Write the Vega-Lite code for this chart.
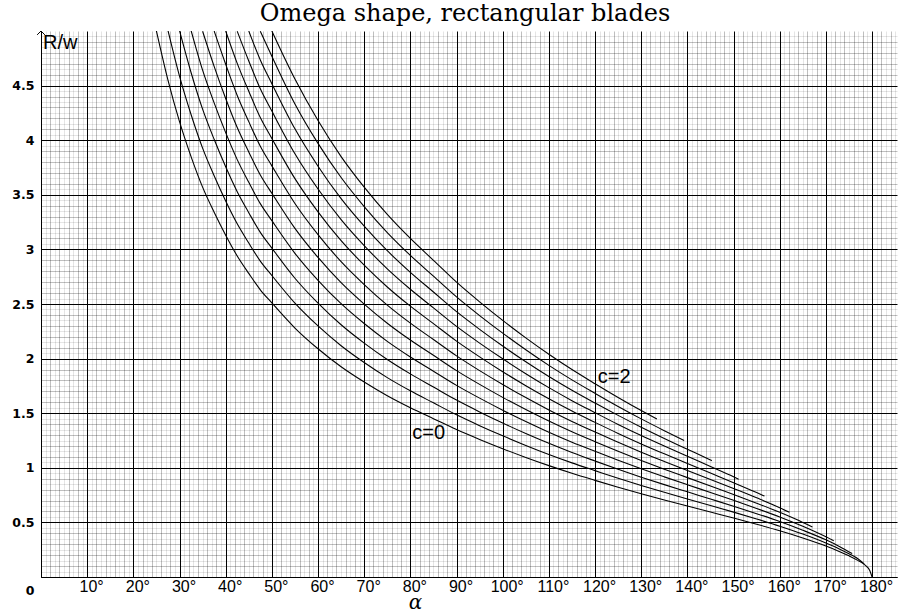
{
"$schema":"https://vega.github.io/schema/vega-lite/v6.json",
"width":856,"height":546,
"autosize":{"type":"none"},
"padding":{"left":41,"top":31,"right":3,"bottom":35},
"background":"white",
"config":{"view":{"stroke":null}},
"title":{"text":"Omega shape, rectangular blades","font":"DejaVu Serif","fontSize":24,"fontWeight":"normal","color":"black","anchor":"middle","baseline":"alphabetic","offset":-16,"dx":-4,"frame":"group"},
"datasets":{
"curves":[
{"c":0,"a":25,"r":5.0},{"c":0,"a":27.5,"r":4.55},{"c":0,"a":30,"r":4.17},{"c":0,"a":32.5,"r":3.85},{"c":0,"a":35,"r":3.57},{"c":0,"a":37.5,"r":3.34},{"c":0,"a":40,"r":3.13},{"c":0,"a":42.5,"r":2.94},{"c":0,"a":45,"r":2.78},{"c":0,"a":47.5,"r":2.63},{"c":0,"a":50,"r":2.51},{"c":0,"a":55,"r":2.28},{"c":0,"a":60,"r":2.09},{"c":0,"a":65,"r":1.925},{"c":0,"a":70,"r":1.785},{"c":0,"a":75,"r":1.66},{"c":0,"a":80,"r":1.55},{"c":0,"a":85,"r":1.45},{"c":0,"a":90,"r":1.35},{"c":0,"a":95,"r":1.26},{"c":0,"a":100,"r":1.175},{"c":0,"a":105,"r":1.095},{"c":0,"a":110,"r":1.02},{"c":0,"a":115,"r":0.95},{"c":0,"a":120,"r":0.885},{"c":0,"a":125,"r":0.822},{"c":0,"a":130,"r":0.762},{"c":0,"a":135,"r":0.705},{"c":0,"a":140,"r":0.65},{"c":0,"a":145,"r":0.595},{"c":0,"a":150,"r":0.54},{"c":0,"a":155,"r":0.483},{"c":0,"a":160,"r":0.423},{"c":0,"a":165,"r":0.357},{"c":0,"a":170,"r":0.283},{"c":0,"a":173,"r":0.232},{"c":0,"a":175,"r":0.194},{"c":0,"a":177,"r":0.15},{"c":0,"a":178.5,"r":0.108},{"c":0,"a":179.5,"r":0.06},{"c":0,"a":180,"r":0.0},
{"c":0.2,"a":27.5,"r":5.005},{"c":0.2,"a":30,"r":4.587},{"c":0.2,"a":32.5,"r":4.235},{"c":0.2,"a":35,"r":3.927},{"c":0.2,"a":37.5,"r":3.674},{"c":0.2,"a":40,"r":3.443},{"c":0.2,"a":42.5,"r":3.234},{"c":0.2,"a":45,"r":3.058},{"c":0.2,"a":47.5,"r":2.893},{"c":0.2,"a":50,"r":2.761},{"c":0.2,"a":55,"r":2.508},{"c":0.2,"a":60,"r":2.299},{"c":0.2,"a":65,"r":2.118},{"c":0.2,"a":70,"r":1.964},{"c":0.2,"a":75,"r":1.826},{"c":0.2,"a":80,"r":1.705},{"c":0.2,"a":85,"r":1.595},{"c":0.2,"a":90,"r":1.485},{"c":0.2,"a":95,"r":1.386},{"c":0.2,"a":100,"r":1.293},{"c":0.2,"a":105,"r":1.205},{"c":0.2,"a":110,"r":1.122},{"c":0.2,"a":115,"r":1.045},{"c":0.2,"a":120,"r":0.974},{"c":0.2,"a":125,"r":0.904},{"c":0.2,"a":130,"r":0.838},{"c":0.2,"a":135,"r":0.776},{"c":0.2,"a":140,"r":0.715},{"c":0.2,"a":145,"r":0.655},{"c":0.2,"a":150,"r":0.594},{"c":0.2,"a":155,"r":0.531},{"c":0.2,"a":160,"r":0.465},{"c":0.2,"a":165,"r":0.393},{"c":0.2,"a":170,"r":0.311},{"c":0.2,"a":173,"r":0.255},{"c":0.2,"a":175,"r":0.213},{"c":0.2,"a":177,"r":0.165},{"c":0.2,"a":178.3,"r":0.12},
{"c":0.4,"a":30,"r":5.004},{"c":0.4,"a":32.5,"r":4.62},{"c":0.4,"a":35,"r":4.284},{"c":0.4,"a":37.5,"r":4.008},{"c":0.4,"a":40,"r":3.756},{"c":0.4,"a":42.5,"r":3.528},{"c":0.4,"a":45,"r":3.336},{"c":0.4,"a":47.5,"r":3.156},{"c":0.4,"a":50,"r":3.012},{"c":0.4,"a":55,"r":2.736},{"c":0.4,"a":60,"r":2.508},{"c":0.4,"a":65,"r":2.31},{"c":0.4,"a":70,"r":2.142},{"c":0.4,"a":75,"r":1.992},{"c":0.4,"a":80,"r":1.86},{"c":0.4,"a":85,"r":1.74},{"c":0.4,"a":90,"r":1.62},{"c":0.4,"a":95,"r":1.512},{"c":0.4,"a":100,"r":1.41},{"c":0.4,"a":105,"r":1.314},{"c":0.4,"a":110,"r":1.224},{"c":0.4,"a":115,"r":1.14},{"c":0.4,"a":120,"r":1.062},{"c":0.4,"a":125,"r":0.986},{"c":0.4,"a":130,"r":0.914},{"c":0.4,"a":135,"r":0.846},{"c":0.4,"a":140,"r":0.78},{"c":0.4,"a":145,"r":0.714},{"c":0.4,"a":150,"r":0.648},{"c":0.4,"a":155,"r":0.58},{"c":0.4,"a":160,"r":0.508},{"c":0.4,"a":165,"r":0.428},{"c":0.4,"a":170,"r":0.34},{"c":0.4,"a":173,"r":0.278},{"c":0.4,"a":175.7,"r":0.215},
{"c":0.6,"a":32.5,"r":5.005},{"c":0.6,"a":35,"r":4.641},{"c":0.6,"a":37.5,"r":4.342},{"c":0.6,"a":40,"r":4.069},{"c":0.6,"a":42.5,"r":3.822},{"c":0.6,"a":45,"r":3.614},{"c":0.6,"a":47.5,"r":3.419},{"c":0.6,"a":50,"r":3.263},{"c":0.6,"a":55,"r":2.964},{"c":0.6,"a":60,"r":2.717},{"c":0.6,"a":65,"r":2.503},{"c":0.6,"a":70,"r":2.321},{"c":0.6,"a":75,"r":2.158},{"c":0.6,"a":80,"r":2.015},{"c":0.6,"a":85,"r":1.885},{"c":0.6,"a":90,"r":1.755},{"c":0.6,"a":95,"r":1.638},{"c":0.6,"a":100,"r":1.528},{"c":0.6,"a":105,"r":1.424},{"c":0.6,"a":110,"r":1.326},{"c":0.6,"a":115,"r":1.235},{"c":0.6,"a":120,"r":1.151},{"c":0.6,"a":125,"r":1.069},{"c":0.6,"a":130,"r":0.991},{"c":0.6,"a":135,"r":0.917},{"c":0.6,"a":140,"r":0.845},{"c":0.6,"a":145,"r":0.774},{"c":0.6,"a":150,"r":0.702},{"c":0.6,"a":155,"r":0.628},{"c":0.6,"a":160,"r":0.55},{"c":0.6,"a":165,"r":0.464},{"c":0.6,"a":170,"r":0.368},{"c":0.6,"a":171.7,"r":0.332},
{"c":0.8,"a":35,"r":4.998},{"c":0.8,"a":37.5,"r":4.676},{"c":0.8,"a":40,"r":4.382},{"c":0.8,"a":42.5,"r":4.116},{"c":0.8,"a":45,"r":3.892},{"c":0.8,"a":47.5,"r":3.682},{"c":0.8,"a":50,"r":3.514},{"c":0.8,"a":55,"r":3.192},{"c":0.8,"a":60,"r":2.926},{"c":0.8,"a":65,"r":2.695},{"c":0.8,"a":70,"r":2.499},{"c":0.8,"a":75,"r":2.324},{"c":0.8,"a":80,"r":2.17},{"c":0.8,"a":85,"r":2.03},{"c":0.8,"a":90,"r":1.89},{"c":0.8,"a":95,"r":1.764},{"c":0.8,"a":100,"r":1.645},{"c":0.8,"a":105,"r":1.533},{"c":0.8,"a":110,"r":1.428},{"c":0.8,"a":115,"r":1.33},{"c":0.8,"a":120,"r":1.239},{"c":0.8,"a":125,"r":1.151},{"c":0.8,"a":130,"r":1.067},{"c":0.8,"a":135,"r":0.987},{"c":0.8,"a":140,"r":0.91},{"c":0.8,"a":145,"r":0.833},{"c":0.8,"a":150,"r":0.756},{"c":0.8,"a":155,"r":0.676},{"c":0.8,"a":160,"r":0.592},{"c":0.8,"a":165,"r":0.5},{"c":0.8,"a":167.1,"r":0.458},
{"c":1.0,"a":37.5,"r":5.0},{"c":1.0,"a":40,"r":4.695},{"c":1.0,"a":42.5,"r":4.41},{"c":1.0,"a":45,"r":4.17},{"c":1.0,"a":47.5,"r":3.945},{"c":1.0,"a":50,"r":3.765},{"c":1.0,"a":55,"r":3.42},{"c":1.0,"a":60,"r":3.135},{"c":1.0,"a":65,"r":2.888},{"c":1.0,"a":70,"r":2.678},{"c":1.0,"a":75,"r":2.49},{"c":1.0,"a":80,"r":2.325},{"c":1.0,"a":85,"r":2.175},{"c":1.0,"a":90,"r":2.025},{"c":1.0,"a":95,"r":1.89},{"c":1.0,"a":100,"r":1.763},{"c":1.0,"a":105,"r":1.643},{"c":1.0,"a":110,"r":1.53},{"c":1.0,"a":115,"r":1.425},{"c":1.0,"a":120,"r":1.328},{"c":1.0,"a":125,"r":1.233},{"c":1.0,"a":130,"r":1.143},{"c":1.0,"a":135,"r":1.058},{"c":1.0,"a":140,"r":0.975},{"c":1.0,"a":145,"r":0.893},{"c":1.0,"a":150,"r":0.81},{"c":1.0,"a":155,"r":0.725},{"c":1.0,"a":160,"r":0.635},{"c":1.0,"a":162.1,"r":0.593},
{"c":1.2,"a":40,"r":5.0},{"c":1.2,"a":42.5,"r":4.704},{"c":1.2,"a":45,"r":4.448},{"c":1.2,"a":47.5,"r":4.208},{"c":1.2,"a":50,"r":4.016},{"c":1.2,"a":55,"r":3.648},{"c":1.2,"a":60,"r":3.344},{"c":1.2,"a":65,"r":3.08},{"c":1.2,"a":70,"r":2.856},{"c":1.2,"a":75,"r":2.656},{"c":1.2,"a":80,"r":2.48},{"c":1.2,"a":85,"r":2.32},{"c":1.2,"a":90,"r":2.16},{"c":1.2,"a":95,"r":2.016},{"c":1.2,"a":100,"r":1.88},{"c":1.2,"a":105,"r":1.752},{"c":1.2,"a":110,"r":1.632},{"c":1.2,"a":115,"r":1.52},{"c":1.2,"a":120,"r":1.416},{"c":1.2,"a":125,"r":1.315},{"c":1.2,"a":130,"r":1.219},{"c":1.2,"a":135,"r":1.128},{"c":1.2,"a":140,"r":1.04},{"c":1.2,"a":145,"r":0.952},{"c":1.2,"a":150,"r":0.864},{"c":1.2,"a":155,"r":0.773},{"c":1.2,"a":156.7,"r":0.741},
{"c":1.4,"a":42.5,"r":4.998},{"c":1.4,"a":45,"r":4.726},{"c":1.4,"a":47.5,"r":4.471},{"c":1.4,"a":50,"r":4.267},{"c":1.4,"a":55,"r":3.876},{"c":1.4,"a":60,"r":3.553},{"c":1.4,"a":65,"r":3.273},{"c":1.4,"a":70,"r":3.035},{"c":1.4,"a":75,"r":2.822},{"c":1.4,"a":80,"r":2.635},{"c":1.4,"a":85,"r":2.465},{"c":1.4,"a":90,"r":2.295},{"c":1.4,"a":95,"r":2.142},{"c":1.4,"a":100,"r":1.998},{"c":1.4,"a":105,"r":1.862},{"c":1.4,"a":110,"r":1.734},{"c":1.4,"a":115,"r":1.615},{"c":1.4,"a":120,"r":1.505},{"c":1.4,"a":125,"r":1.397},{"c":1.4,"a":130,"r":1.295},{"c":1.4,"a":135,"r":1.199},{"c":1.4,"a":140,"r":1.105},{"c":1.4,"a":145,"r":1.012},{"c":1.4,"a":150,"r":0.918},{"c":1.4,"a":151.1,"r":0.896},
{"c":1.6,"a":45,"r":5.0},{"c":1.6,"a":47.5,"r":4.734},{"c":1.6,"a":50,"r":4.518},{"c":1.6,"a":55,"r":4.104},{"c":1.6,"a":60,"r":3.762},{"c":1.6,"a":65,"r":3.465},{"c":1.6,"a":70,"r":3.213},{"c":1.6,"a":75,"r":2.988},{"c":1.6,"a":80,"r":2.79},{"c":1.6,"a":85,"r":2.61},{"c":1.6,"a":90,"r":2.43},{"c":1.6,"a":95,"r":2.268},{"c":1.6,"a":100,"r":2.115},{"c":1.6,"a":105,"r":1.971},{"c":1.6,"a":110,"r":1.836},{"c":1.6,"a":115,"r":1.71},{"c":1.6,"a":120,"r":1.593},{"c":1.6,"a":125,"r":1.48},{"c":1.6,"a":130,"r":1.372},{"c":1.6,"a":135,"r":1.269},{"c":1.6,"a":140,"r":1.17},{"c":1.6,"a":145,"r":1.071},{"c":1.6,"a":145.3,"r":1.065},
{"c":1.8,"a":47.5,"r":4.997},{"c":1.8,"a":50,"r":4.769},{"c":1.8,"a":55,"r":4.332},{"c":1.8,"a":60,"r":3.971},{"c":1.8,"a":65,"r":3.658},{"c":1.8,"a":70,"r":3.392},{"c":1.8,"a":75,"r":3.154},{"c":1.8,"a":80,"r":2.945},{"c":1.8,"a":85,"r":2.755},{"c":1.8,"a":90,"r":2.565},{"c":1.8,"a":95,"r":2.394},{"c":1.8,"a":100,"r":2.233},{"c":1.8,"a":105,"r":2.081},{"c":1.8,"a":110,"r":1.938},{"c":1.8,"a":115,"r":1.805},{"c":1.8,"a":120,"r":1.682},{"c":1.8,"a":125,"r":1.562},{"c":1.8,"a":130,"r":1.448},{"c":1.8,"a":135,"r":1.34},{"c":1.8,"a":139.3,"r":1.25},
{"c":2.0,"a":50,"r":5.0},{"c":2.0,"a":55,"r":4.56},{"c":2.0,"a":60,"r":4.18},{"c":2.0,"a":65,"r":3.85},{"c":2.0,"a":70,"r":3.57},{"c":2.0,"a":75,"r":3.32},{"c":2.0,"a":80,"r":3.1},{"c":2.0,"a":85,"r":2.9},{"c":2.0,"a":90,"r":2.7},{"c":2.0,"a":95,"r":2.52},{"c":2.0,"a":100,"r":2.35},{"c":2.0,"a":105,"r":2.19},{"c":2.0,"a":110,"r":2.04},{"c":2.0,"a":115,"r":1.9},{"c":2.0,"a":120,"r":1.77},{"c":2.0,"a":125,"r":1.644},{"c":2.0,"a":130,"r":1.524},{"c":2.0,"a":133.4,"r":1.446}
],
"labels":[{"t":"c=0","a":80.4,"r":1.26},{"t":"c=2","a":120.6,"r":1.78}],
"corner":[{"t":"R/w","a":0,"r":5}]
},
"encoding":{
  "x":{"field":"a","type":"quantitative","scale":{"domain":[0,185.4],"nice":false,"zero":false},
   "axis":{"values":[0,1,2,3,4,5,6,7,8,9,10,11,12,13,14,15,16,17,18,19,20,21,22,23,24,25,26,27,28,29,30,31,32,33,34,35,36,37,38,39,40,41,42,43,44,45,46,47,48,49,50,51,52,53,54,55,56,57,58,59,60,61,62,63,64,65,66,67,68,69,70,71,72,73,74,75,76,77,78,79,80,81,82,83,84,85,86,87,88,89,90,91,92,93,94,95,96,97,98,99,100,101,102,103,104,105,106,107,108,109,110,111,112,113,114,115,116,117,118,119,120,121,122,123,124,125,126,127,128,129,130,131,132,133,134,135,136,137,138,139,140,141,142,143,144,145,146,147,148,149,150,151,152,153,154,155,156,157,158,159,160,161,162,163,164,165,166,167,168,169,170,171,172,173,174,175,176,177,178,179,180,181,182,183,184,185],
    "title":"α","titleFont":"DejaVu Serif","titleFontStyle":"italic","titleFontSize":20,"titleFontWeight":"normal","titleColor":"black","titleX":374,"titleY":31,"titleAlign":"center","titleBaseline":"alphabetic",
    "labelExpr":"datum.value % 10 === 0 && datum.value > 0 ? datum.value + '°' : ''",
    "labelFont":"Liberation Sans","labelFontSize":16,"labelColor":"black","labelPadding":1,"labelOffset":4,"labelFlush":false,"labelOverlap":false,"labelBound":false,
    "ticks":false,"domainColor":"black","domainWidth":1,"grid":true,"gridWidth":1,"gridColor":"#000000",
    "gridOpacity":{"condition":[{"test":"datum.value % 10 === 0","value":1},{"test":"datum.value % 2 === 0","value":0.25}],"value":0.1}}},
  "y":{"field":"r","type":"quantitative","scale":{"domain":[0,5],"nice":false,"zero":true},
   "axis":{"values":[0,0.05,0.1,0.15,0.2,0.25,0.3,0.35,0.4,0.45,0.5,0.55,0.6,0.65,0.7,0.75,0.8,0.85,0.9,0.95,1,1.05,1.1,1.15,1.2,1.25,1.3,1.35,1.4,1.45,1.5,1.55,1.6,1.65,1.7,1.75,1.8,1.85,1.9,1.95,2,2.05,2.1,2.15,2.2,2.25,2.3,2.35,2.4,2.45,2.5,2.55,2.6,2.65,2.7,2.75,2.8,2.85,2.9,2.95,3,3.05,3.1,3.15,3.2,3.25,3.3,3.35,3.4,3.45,3.5,3.55,3.6,3.65,3.7,3.75,3.8,3.85,3.9,3.95,4,4.05,4.1,4.15,4.2,4.25,4.3,4.35,4.4,4.45,4.5,4.55,4.6,4.65,4.7,4.75,4.8,4.85,4.9,4.95],
    "title":null,
    "labelExpr":"abs(datum.value*2 - round(datum.value*2)) < 0.000001 ? '' + datum.value : ''",
    "labelFont":"DejaVu Sans","labelFontWeight":"bold","labelFontSize":12.5,"labelColor":"black","labelPadding":7,"labelOverlap":false,"labelBound":false,"labelFlush":false,
    "labelOffset":{"condition":{"test":"datum.value === 0","value":13},"value":0},
    "ticks":false,"domainColor":"black","domainWidth":1,"grid":true,"gridWidth":1,"gridColor":"#000000",
    "gridOpacity":{"condition":[{"test":"abs(datum.value*2 - round(datum.value*2)) < 0.000001","value":1},{"test":"abs(datum.value*10 - round(datum.value*10)) < 0.000001","value":0.25}],"value":0.1}}}
},
"layer":[
{"data":{"name":"curves"},
 "mark":{"type":"line","color":"black","strokeWidth":1.1,"clip":true,"interpolate":"monotone"},
 "encoding":{"detail":{"field":"c","type":"nominal"}}},
{"data":{"name":"labels"},
 "mark":{"type":"text","font":"Liberation Sans","fontSize":20,"align":"left","baseline":"alphabetic","color":"black"},
 "encoding":{"text":{"field":"t"}}},
{"data":{"name":"corner"},
 "mark":{"type":"text","font":"Liberation Sans","fontSize":20,"align":"left","baseline":"top","dx":2,"dy":2,"color":"black"},
 "encoding":{"text":{"field":"t"}}},
{"data":{"name":"corner"},
 "mark":{"type":"point","shape":"M-1,1L0,0L1,1","size":60,"filled":false,"stroke":"black","strokeWidth":1,"opacity":1},
 "encoding":{}}
]
}
